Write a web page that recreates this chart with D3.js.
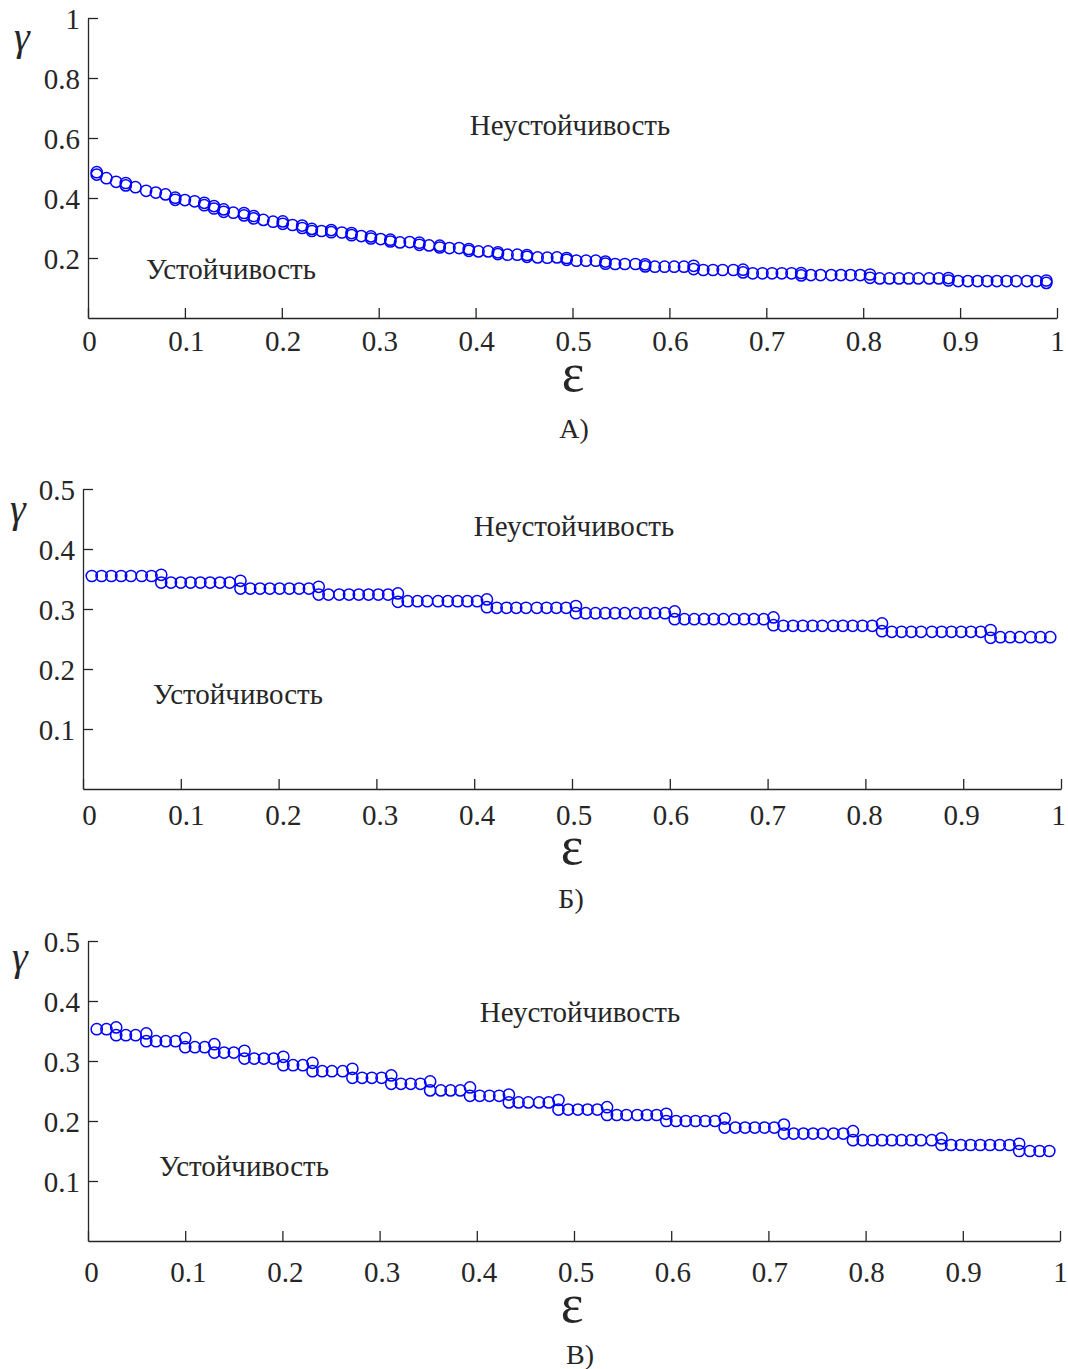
<!DOCTYPE html>
<html><head><meta charset="utf-8">
<script src="https://cdn.jsdelivr.net/npm/d3@7"></script>
<style>
html,body{margin:0;padding:0;background:#fff;}
svg text{font-family:"Liberation Serif","Times New Roman",serif;fill:#262626;}
</style></head>
<body><svg id="chart" width="1068" height="1369"></svg>
<script>
// ---- data ----
const eps = [0.009,0.019,0.029,0.039,0.049,0.060,0.070,0.080,0.090,0.100,
 0.110,0.120,0.130,0.140,0.150,0.161,0.171,0.181,0.191,0.201,
 0.211,0.221,0.231,0.241,0.251,0.262,0.272,0.282,0.292,0.302,
 0.312,0.322,0.332,0.342,0.352,0.363,0.373,0.383,0.393,0.403,
 0.413,0.423,0.433,0.443,0.453,0.464,0.474,0.484,0.494,0.504,
 0.514,0.524,0.534,0.544,0.554,0.565,0.575,0.585,0.595,0.605,
 0.615,0.625,0.635,0.645,0.655,0.666,0.676,0.686,0.696,0.706,
 0.716,0.726,0.736,0.746,0.756,0.767,0.777,0.787,0.797,0.807,
 0.817,0.827,0.837,0.847,0.857,0.868,0.878,0.888,0.898,0.908,
 0.918,0.928,0.938,0.948,0.958,0.969,0.979,0.989];

const gammaA = [0.478,0.466,0.454,0.442,0.436,0.424,0.418,0.412,0.394,0.393,
 0.389,0.376,0.365,0.354,0.351,0.342,0.332,0.327,0.321,0.314,
 0.310,0.300,0.290,0.290,0.286,0.285,0.276,0.273,0.265,0.263,
 0.255,0.252,0.253,0.244,0.242,0.235,0.233,0.233,0.224,0.222,
 0.222,0.213,0.211,0.211,0.204,0.202,0.201,0.202,0.194,0.191,
 0.191,0.191,0.181,0.180,0.180,0.180,0.172,0.171,0.171,0.171,
 0.171,0.163,0.160,0.160,0.160,0.160,0.152,0.149,0.149,0.149,
 0.149,0.149,0.142,0.143,0.143,0.143,0.143,0.143,0.143,0.134,
 0.132,0.132,0.132,0.132,0.132,0.132,0.132,0.125,0.123,0.123,
 0.123,0.123,0.123,0.123,0.123,0.123,0.123,0.117];
// second (upper) circle at each step of the curve
const stepEpsA   = [0.009,0.039,0.090,0.120,0.130,0.140,0.161,0.171,0.201,0.221,0.231,0.251,0.272,0.292,0.312,0.342,0.363,0.393,0.423,0.453,0.494,0.534,0.575,0.625,0.676,0.736,0.807,0.888,0.989];
const stepGammaA = [0.486,0.450,0.401,0.384,0.373,0.362,0.350,0.340,0.322,0.308,0.297,0.293,0.283,0.272,0.261,0.251,0.241,0.230,0.219,0.210,0.200,0.188,0.179,0.174,0.161,0.150,0.145,0.133,0.125];

const gammaB = [0.355,0.355,0.355,0.355,0.355,0.355,0.355,0.344,0.344,0.344,
 0.344,0.344,0.344,0.344,0.344,0.334,0.334,0.334,0.334,0.334,
 0.334,0.334,0.334,0.324,0.324,0.324,0.324,0.324,0.324,0.324,
 0.324,0.312,0.313,0.313,0.313,0.313,0.313,0.313,0.313,0.313,
 0.303,0.302,0.302,0.302,0.302,0.302,0.302,0.302,0.302,0.293,
 0.293,0.293,0.293,0.293,0.293,0.293,0.293,0.293,0.293,0.283,
 0.283,0.283,0.283,0.283,0.283,0.283,0.283,0.283,0.283,0.273,
 0.272,0.272,0.272,0.272,0.272,0.272,0.272,0.272,0.272,0.272,
 0.263,0.262,0.262,0.262,0.262,0.262,0.262,0.262,0.262,0.262,
 0.262,0.252,0.253,0.253,0.253,0.253,0.253,0.253];
const stepEpsB   = [0.080,0.161,0.241,0.322,0.413,0.504,0.605,0.706,0.817,0.928];
const stepGammaB = [0.357,0.347,0.337,0.326,0.316,0.305,0.296,0.286,0.276,0.265];

const gammaC = [0.353,0.353,0.343,0.343,0.343,0.333,0.333,0.333,0.333,0.323,
 0.323,0.323,0.314,0.314,0.314,0.304,0.304,0.304,0.304,0.293,
 0.293,0.293,0.283,0.283,0.283,0.283,0.272,0.272,0.272,0.272,
 0.262,0.262,0.262,0.262,0.251,0.251,0.251,0.251,0.242,0.242,
 0.242,0.242,0.231,0.231,0.231,0.231,0.231,0.219,0.219,0.219,
 0.219,0.219,0.210,0.210,0.210,0.210,0.210,0.210,0.200,0.200,
 0.200,0.200,0.200,0.200,0.189,0.189,0.189,0.189,0.189,0.189,
 0.179,0.179,0.179,0.179,0.179,0.179,0.179,0.168,0.168,0.168,
 0.168,0.168,0.168,0.168,0.168,0.168,0.160,0.160,0.160,0.160,
 0.160,0.160,0.160,0.160,0.150,0.150,0.150,0.150];
const stepEpsC   = [0.029,0.060,0.100,0.130,0.161,0.201,0.231,0.272,0.312,0.352,0.393,0.433,0.484,0.534,0.595,0.655,0.716,0.787,0.878,0.958];
const stepGammaC = [0.356,0.346,0.338,0.328,0.317,0.307,0.297,0.287,0.276,0.266,0.256,0.244,0.235,0.223,0.212,0.204,0.194,0.183,0.171,0.162];

const xTicks = [0,0.1,0.2,0.3,0.4,0.5,0.6,0.7,0.8,0.9,1];
const xTickLabels = ["0","0.1","0.2","0.3","0.4","0.5","0.6","0.7","0.8","0.9","1"];
const yTicksA = [0.2,0.4,0.6,0.8,1];
const yTickLabelsA = ["0.2","0.4","0.6","0.8","1"];
const yTicksBC = [0.1,0.2,0.3,0.4,0.5];
const yTickLabelsBC = ["0.1","0.2","0.3","0.4","0.5"];
const regionLabels = ["Неустойчивость","Устойчивость"];
const captions = ["А)","Б)","В)"];

// ---- layout ----
const panels = [
  {gamma:gammaA, sE:stepEpsA, sG:stepGammaA, yMax:1, yT:yTicksA, yL:yTickLabelsA,
   x0:88, x1:1057, lab0:89, lab1:1057, yTop:18, yBot:318, xLabPad:12, cap:captions[0],
   gam:[22,50], epsL:[573,391], capL:[574,438], unst:[570,135], st:[231,279]},
  {gamma:gammaB, sE:stepEpsB, sG:stepGammaB, yMax:0.5, yT:yTicksBC, yL:yTickLabelsBC,
   x0:83, x1:1061, lab0:89, lab1:1058, yTop:489, yBot:789, xLabPad:15, cap:captions[1],
   gam:[18,522], epsL:[572,864], capL:[571,908], unst:[574,536], st:[238,704]},
  {gamma:gammaC, sE:stepEpsC, sG:stepGammaC, yMax:0.5, yT:yTicksBC, yL:yTickLabelsBC,
   x0:88, x1:1060, lab0:91, lab1:1060, yTop:941, yBot:1241, xLabPad:20, cap:captions[2],
   gam:[20,970], epsL:[572,1322], capL:[580,1364], unst:[580,1022], st:[244,1176]}
];

const svg = d3.select("#chart");
svg.append("rect").attr("width",1068).attr("height",1369).attr("fill","#fff");

panels.forEach(p => {
  const x = d3.scaleLinear().domain([0,1]).range([p.x0,p.x1]);
  const xLab = d3.scaleLinear().domain([0,1]).range([p.lab0,p.lab1]);
  const y = d3.scaleLinear().domain([0,p.yMax]).range([p.yBot,p.yTop]);
  const g = svg.append("g");

  const xa = d3.axisBottom(x).tickValues(xTicks)
    .tickFormat((d,i)=>xTickLabels[i]).tickSizeInner(-10).tickSizeOuter(0).tickPadding(p.xLabPad);
  const ya = d3.axisLeft(y).tickValues(p.yT)
    .tickFormat((d,i)=>p.yL[i]).tickSizeInner(-10).tickSizeOuter(0).tickPadding(8);

  const gx = g.append("g").attr("transform",`translate(0,${p.yBot})`).call(xa);
  const gy = g.append("g").attr("transform",`translate(${p.x0},0)`).call(ya);
  [gx,gy].forEach(a=>{
    a.selectAll("path,line").attr("stroke","#262626").attr("stroke-width",1.3);
    a.selectAll("text").attr("font-family","Liberation Serif, Times New Roman, serif")
      .attr("font-size",29).attr("fill","#262626");
  });
  gy.selectAll("text").attr("dy","0.35em");
  gx.selectAll(".tick text").attr("dx", d => xLab(d) - x(d));

  const pts = eps.map((e,i)=>[e,p.gamma[i]]).concat(p.sE.map((e,i)=>[e,p.sG[i]]));
  g.append("g").selectAll("circle").data(pts).join("circle")
    .attr("cx",d=>x(d[0])).attr("cy",d=>y(d[1])).attr("r",5.6)
    .attr("fill","none").attr("stroke","#0000ff").attr("stroke-width",1.5);

  g.append("text").attr("x",p.gam[0]).attr("y",p.gam[1]).attr("text-anchor","middle")
    .attr("font-size",40).attr("font-style","italic").text("γ");
  g.append("text").attr("x",p.epsL[0]).attr("y",p.epsL[1]).attr("text-anchor","middle")
    .attr("font-size",54).text("ε");
  g.append("text").attr("x",p.capL[0]).attr("y",p.capL[1]).attr("text-anchor","middle")
    .attr("font-size",28).text(p.cap);
  g.append("text").attr("x",p.unst[0]).attr("y",p.unst[1]).attr("text-anchor","middle")
    .attr("font-size",29).text(regionLabels[0]);
  g.append("text").attr("x",p.st[0]).attr("y",p.st[1]).attr("text-anchor","middle")
    .attr("font-size",29).text(regionLabels[1]);
});
</script></body></html>
